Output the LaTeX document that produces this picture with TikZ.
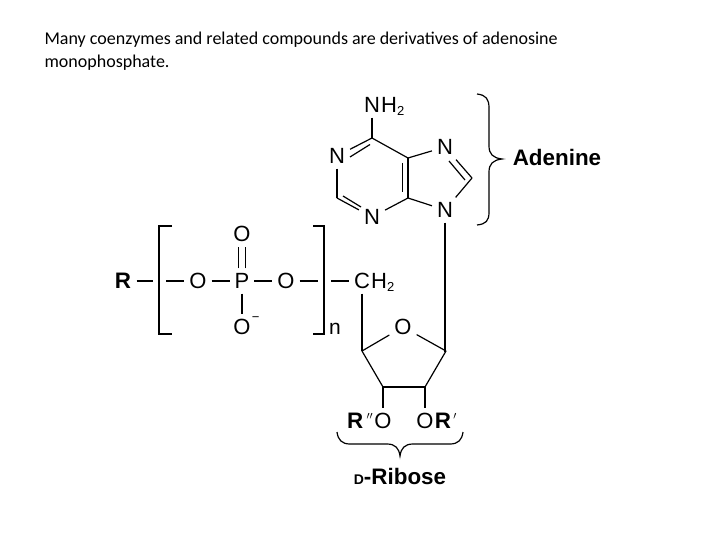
\documentclass[tikz,border=0pt]{standalone}
\usepackage{fontspec}
\setmainfont{Liberation Sans}
\newfontfamily\captionfont{Carlito}
\usetikzlibrary{positioning}

\begin{document}
\begin{tikzpicture}[x=1pt, y=-1pt, line width=1.2pt]
    \tikzset{atom/.style={font=\fontsize{22}{22}\selectfont, text height=15pt, text depth=0pt, inner sep=4.5pt}}
    \tikzset{tail/.style={font=\fontsize{22}{22}\selectfont, inner sep=0pt, anchor=base west}}
    \tikzset{subs/.style={font=\fontsize{13}{13}\selectfont, inner sep=0pt, anchor=base west}}
    \tikzset{heavy/.style={font=\bfseries\fontsize{22.4}{22.4}\selectfont, inner sep=0pt}}
    \useasboundingbox (0,0) rectangle (720,540);

    % caption
    \node[anchor=north west, inner sep=0pt, align=left, font=\captionfont\fontsize{18}{23}\selectfont] (caption) at (44,31)
        {Many coenzymes and related compounds are derivatives of adenosine\\monophosphate.};

    % adenine
    \node[atom] (n6) at (372,105) {N};
    \node[tail, xshift=-4.5pt] (h6) at (n6.base east) {H\fontsize{13}{13}\selectfont\raisebox{-3pt}{2}};
    \node[atom] (n1) at (337,156) {N};
    \node[atom] (n3) at (372,217) {N};
    \node[atom] (n7) at (445,147) {N};
    \node[atom] (n9) at (445,210) {N};
    \coordinate (c6) at (372,138);
    \coordinate (c2) at (337,198);
    \coordinate (c4) at (408,198);
    \coordinate (c5) at (408,158);
    \coordinate (c8) at (472,178);
    \coordinate (d1a) at (350,157);
    \coordinate (d1b) at (370,144.5);
    \coordinate (d2a) at (343,196);
    \coordinate (d2b) at (361,207);
    \coordinate (d3a) at (402.5,163);
    \coordinate (d3b) at (402.5,192);
    \coordinate (d4a) at (449,161);
    \coordinate (d4b) at (465,180);

    \draw (n6) -- (c6);
    \draw (c6) -- (n1);
    \draw (d1a) -- (d1b);
    \draw (n1) -- (c2);
    \draw (c2) -- (n3);
    \draw (d2a) -- (d2b);
    \draw (n3) -- (c4);
    \draw (c4) -- (c5);
    \draw (d3a) -- (d3b);
    \draw (c6) -- (c5);
    \draw (c5) -- (n7);
    \draw (n7) -- (c8);
    \draw (d4a) -- (d4b);
    \draw (c8) -- (n9);
    \draw (n9) -- (c4);

    % brace of the base
    \coordinate (bt) at (477,94);
    \coordinate (bm) at (502,159);
    \coordinate (bb) at (477,225);
    \draw (bt) .. controls (486,95) and (489,99) .. (489,108) -- (489,146)
        .. controls (489,154) and (493,158) .. (bm)
        .. controls (493,160) and (489,164) .. (489,172) -- (489,212)
        .. controls (489,221) and (486,224) .. (bb);
    \node[heavy] (adenine) at (557,157) {Adenine};

    % phosphate
    \node[heavy, inner sep=5pt] (r) at (123,281) {R};
    \node[atom] (o1) at (198,281) {O};
    \node[atom] (p) at (242,281) {P};
    \node[atom] (o2) at (286,281) {O};
    \node[atom] (o3) at (242,234) {O};
    \node[atom] (o4) at (242,327) {O};
    \node[subs, xshift=-4.5pt, yshift=13pt] (minus) at (o4.base east) {−};
    \node[atom] (c5r) at (362,281) {C};
    \node[tail, xshift=-4.5pt] (h5r) at (c5r.base east) {H\fontsize{13}{13}\selectfont\raisebox{-3pt}{2}};
    \node[font=\fontsize{21}{21}\selectfont, inner sep=0pt] (n) at (335,329) {n};
    \coordinate (re) at (153,281);
    \coordinate (lb) at (166,281);
    \coordinate (rb) at (318,281);
    \coordinate (cb) at (331,281);

    \draw[line width=2pt] (r) -- (re);
    \draw (lb) -- (o1);
    \draw (o1) -- (p);
    \draw (p) -- (o2);
    \draw (o2) -- (rb);
    \draw (cb) -- (c5r);
    \draw ([xshift=-3.5pt]p.north) -- ([xshift=-3.5pt]o3.south);
    \draw ([xshift=3.5pt]p.north) -- ([xshift=3.5pt]o3.south);
    \draw (p) -- (o4);

    % brackets
    \coordinate (lt) at (172,226);
    \coordinate (lo) at (172,334);
    \coordinate (rt) at (313,226);
    \coordinate (ro) at (313,334);
    \draw (lt) -- (159,226) -- (159,334) -- (lo);
    \draw (rt) -- (324,226) -- (324,334) -- (ro);

    % ribose
    \node[atom] (o5) at (403,327) {O};
    \node[atom] (o6) at (383,421) {O};
    \node[atom] (o7) at (425,421) {O};
    \node[heavy, anchor=base east, xshift=4.5pt] (r2) at (o6.base west) {R\textnormal{\itshape\fontsize{15}{15}\selectfont\,\raisebox{4pt}{\kern1pt$''$}}};
    \node[heavy, anchor=base west, xshift=-4.5pt] (r1) at (o7.base east) {R\textnormal{\itshape\fontsize{15}{15}\selectfont\,\raisebox{4pt}{$'$}}};
    \coordinate (c4r) at (362,351);
    \coordinate (c1r) at (446,351);
    \coordinate (c3r) at (383,387);
    \coordinate (c2r) at (425,387);

    \draw (c5r) -- (c4r);
    \draw (n9) -- (n9 |- c1r) -- (c1r);
    \draw (c4r) -- (o5);
    \draw (o5) -- (c1r);
    \draw (c4r) -- (c3r);
    \draw (c3r) -- (c2r);
    \draw (c2r) -- (c1r);
    \draw (c3r) -- (o6);
    \draw (c2r) -- (o7);

    % brace of the sugar
    \coordinate (sl) at (337,432);
    \coordinate (sm) at (400,456);
    \coordinate (sr) at (463,432);
    \draw (sl) .. controls (338,440) and (342,444) .. (350,444) -- (387,444)
        .. controls (395,444) and (399,448) .. (sm)
        .. controls (401,448) and (405,444) .. (413,444) -- (450,444)
        .. controls (458,444) and (462,440) .. (sr);
    \node[heavy] (ribose) at (400,476) {{\fontsize{14}{14}\selectfont D}-Ribose};
\end{tikzpicture}
\end{document}
